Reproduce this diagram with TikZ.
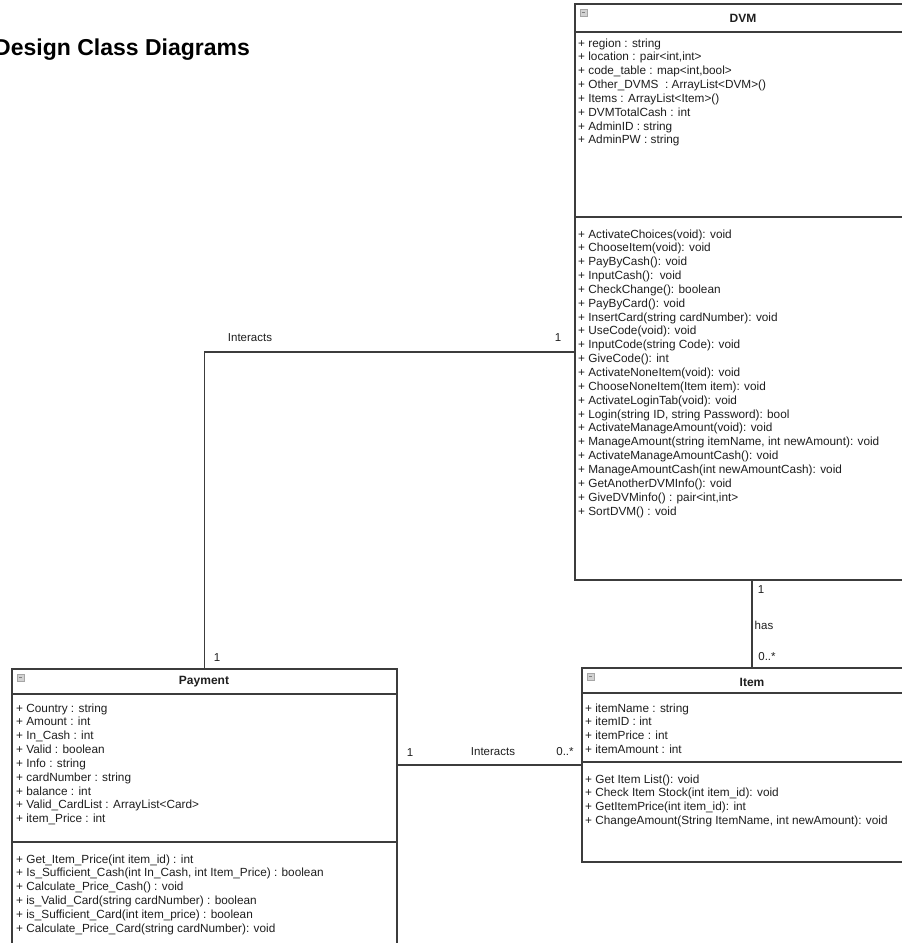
\documentclass[tikz,border=0pt]{standalone}
\usepackage{fontspec}
\setmainfont{Liberation Sans}
\usetikzlibrary{arrows.meta}
\definecolor{linegray}{HTML}{3C3C3C}
\definecolor{textgray}{HTML}{1E1E1E}
\definecolor{icongray}{HTML}{D2D2D2}

\begin{document}
\begin{tikzpicture}[x=1pt,y=-1pt]
\tikzstyle{classbox}=[draw=linegray,line width=1.4pt,rectangle,inner sep=0pt,outer sep=0pt,anchor=north west]
\tikzstyle{member}=[anchor=base west,inner sep=0pt,text=textgray,font=\fontsize{11.8}{13.85}\selectfont]
\tikzstyle{classname}=[inner sep=0pt,text=textgray,font=\fontsize{12}{14}\selectfont\bfseries]
\tikzstyle{mult}=[inner sep=0pt,text=textgray,font=\fontsize{11.5}{13}\selectfont]
\tikzstyle{assoc}=[draw=linegray,line width=1.3pt]
\tikzstyle{icon}=[draw=gray!70,fill=icongray,rectangle,inner sep=0pt,minimum size=6.5pt,anchor=north west]

\useasboundingbox (0,0) rectangle (902,943);
\clip (0,0) rectangle (902,943);

\node[anchor=base west,inner sep=0pt,font=\fontsize{23}{26}\selectfont\bfseries] (title) at (-6,55) {Design Class Diagrams};

\node[classbox,minimum width=336pt,minimum height=576pt] (dvm) at (575,4) {};
\node[classbox,minimum width=385pt,minimum height=300pt] (payment) at (12,669) {};
\node[classbox,minimum width=340pt,minimum height=194pt] (item) at (582,668) {};

\draw[assoc] ([yshift=-28pt]dvm.north west) -- ([yshift=-28pt]dvm.north east);
\draw[assoc] ([yshift=-213pt]dvm.north west) -- ([yshift=-213pt]dvm.north east);
\draw[assoc] ([yshift=-25pt]payment.north west) -- ([yshift=-25pt]payment.north east);
\draw[assoc] ([yshift=-173pt]payment.north west) -- ([yshift=-173pt]payment.north east);
\draw[assoc] ([yshift=-25pt]item.north west) -- ([yshift=-25pt]item.north east);
\draw[assoc] ([yshift=-94pt]item.north west) -- ([yshift=-94pt]item.north east);

\node[icon] (dvmicon) at (580,9) {};
\node[icon] (paymenticon) at (17,674) {};
\node[icon] (itemicon) at (587,673) {};
\draw[gray] ([xshift=1.5pt]dvmicon.west) -- ([xshift=-1.5pt]dvmicon.east);
\draw[gray] ([xshift=1.5pt]paymenticon.west) -- ([xshift=-1.5pt]paymenticon.east);
\draw[gray] ([xshift=1.5pt]itemicon.west) -- ([xshift=-1.5pt]itemicon.east);

\node[classname] (dvmname) at (743,18) {DVM};
\node[classname] (paymentname) at (204,682) {Payment};
\node[classname] (itemname) at (752,682) {Item};

\foreach \t [count=\i] in {{+ region : string},{+ location : pair<int,int>},{+ code\_table : map<int,bool>},{+ Other\_DVMS\ \ : ArrayList<DVM>()},{+ Items : ArrayList<Item>()},{+ DVMTotalCash : int},{+ AdminID : string},{+ AdminPW : string}}
  \node[member] (dvmattr\i) at (578,{47+13.85*(\i-1)}) {\t};

\foreach \t [count=\i] in {{+ ActivateChoices(void): void},{+ ChooseItem(void): void},{+ PayByCash(): void},{+ InputCash():\ \ void},{+ CheckChange(): boolean},{+ PayByCard(): void},{+ InsertCard(string cardNumber): void},{+ UseCode(void): void},{+ InputCode(string Code): void},{+ GiveCode(): int},{+ ActivateNoneItem(void): void},{+ ChooseNoneItem(Item item): void},{+ ActivateLoginTab(void): void},{+ Login(string ID, string Password): bool},{+ ActivateManageAmount(void): void},{+ ManageAmount(string itemName, int newAmount): void},{+ ActivateManageAmountCash(): void},{+ ManageAmountCash(int newAmountCash): void},{+ GetAnotherDVMInfo(): void},{+ GiveDVMinfo() : pair<int,int>},{+ SortDVM() : void}}
  \node[member] (dvmop\i) at (578,{238+13.85*(\i-1)}) {\t};

\foreach \t [count=\i] in {{+ Country : string},{+ Amount : int},{+ In\_Cash : int},{+ Valid : boolean},{+ Info : string},{+ cardNumber : string},{+ balance : int},{+ Valid\_CardList : ArrayList<Card>},{+ item\_Price : int}}
  \node[member] (paymentattr\i) at (16,{712+13.85*(\i-1)}) {\t};

\foreach \t [count=\i] in {{+ Get\_Item\_Price(int item\_id) : int},{+ Is\_Sufficient\_Cash(int In\_Cash, int Item\_Price) : boolean},{+ Calculate\_Price\_Cash() : void},{+ is\_Valid\_Card(string cardNumber) : boolean},{+ is\_Sufficient\_Card(int item\_price) : boolean},{+ Calculate\_Price\_Card(string cardNumber): void}}
  \node[member] (paymentop\i) at (16,{863+13.85*(\i-1)}) {\t};

\foreach \t [count=\i] in {{+ itemName : string},{+ itemID : int},{+ itemPrice : int},{+ itemAmount : int}}
  \node[member] (itemattr\i) at (585,{712+13.7*(\i-1)}) {\t};

\foreach \t [count=\i] in {{+ Get Item List(): void},{+ Check Item Stock(int item\_id): void},{+ GetItemPrice(int item\_id): int},{+ ChangeAmount(String ItemName, int newAmount): void}}
  \node[member] (itemop\i) at (585,{783+13.7*(\i-1)}) {\t};

\coordinate (dvmport) at ([yshift=-60pt]dvm.west);
\draw[assoc] (payment.north) |- (dvmport);
\draw[assoc] (item.north) -- (item.north |- dvm.south);
\draw[assoc] (item.west) -- (item.west -| payment.east);

\node[mult] (interacts1) at (250,338) {Interacts};
\node[mult] (dvmmult1) at (558,338) {1};
\node[mult] (paymentmult1) at (217,658) {1};
\node[mult] (dvmmult2) at (761,590) {1};
\node[mult] (has) at (764,625) {has};
\node[mult] (itemmult1) at (767,657) {0..*};
\node[mult] (paymentmult2) at (410,753) {1};
\node[mult] (interacts2) at (493,752) {Interacts};
\node[mult] (itemmult2) at (565,752) {0..*};
\end{tikzpicture}
\end{document}
